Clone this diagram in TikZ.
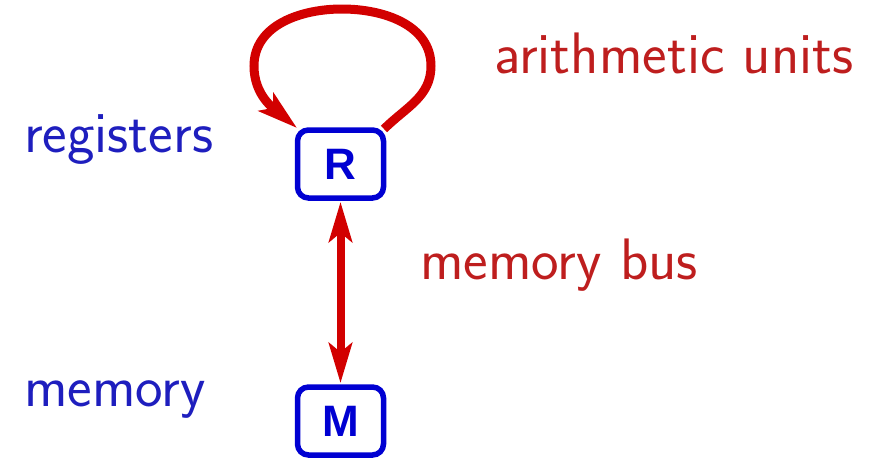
\documentclass[tikz,border=0pt]{standalone}
\usepackage{fontspec}
\setmainfont{Liberation Sans}
\usetikzlibrary{arrows.meta}
\definecolor{labelblue}{RGB}{30,30,190}
\definecolor{labelred}{RGB}{190,30,30}
\definecolor{boxblue}{RGB}{0,0,210}
\definecolor{linkred}{RGB}{210,0,0}
\tikzset{head/.tip={Stealth[length=40pt,width=23pt,inset=9pt]}}
\begin{document}
\begin{tikzpicture}[x=1pt,y=-1pt,
  unit/.style={draw=boxblue,line width=5.5pt,rounded corners=11pt,
    minimum width=86pt,minimum height=68pt,inner sep=0pt,
    font=\fontsize{44}{46}\selectfont\bfseries,text=boxblue},
  caption/.style={anchor=base west,inner sep=0pt,
    font=\fontsize{58.5}{62}\selectfont\sffamily},
  link/.style={draw=linkred,line width=8pt}]
\useasboundingbox (0,0) rectangle (879,458);

% register file and memory
\node[unit] (R) at (340.5,164) {R};
\node[unit] (M) at (340.5,421) {M};

% labels
\node[caption,text=labelblue] (lreg) at (24,152) {registers};
\node[caption,text=labelblue] (lmem) at (24,406) {memory};
\node[caption,text=labelred] (lalu) at (494,73) {arithmetic units};
\node[caption,text=labelred] (lbus) at (420,279) {memory bus};

% memory bus
\draw[link,head-head,shorten <=1pt,shorten >=1pt]
  (R.south) -- (M.north);

% arithmetic loop from R back to R
\coordinate (loopout) at (384,129);
\coordinate (loopin) at (297,128);
\draw[link,line width=9pt,-head]
  (loopout) to[out=45,in=-90] (431,66) to[out=90,in=0] (342,9)
  to[out=180,in=90] (254,66) to[out=-90,in=140] (loopin);
\end{tikzpicture}
\end{document}
